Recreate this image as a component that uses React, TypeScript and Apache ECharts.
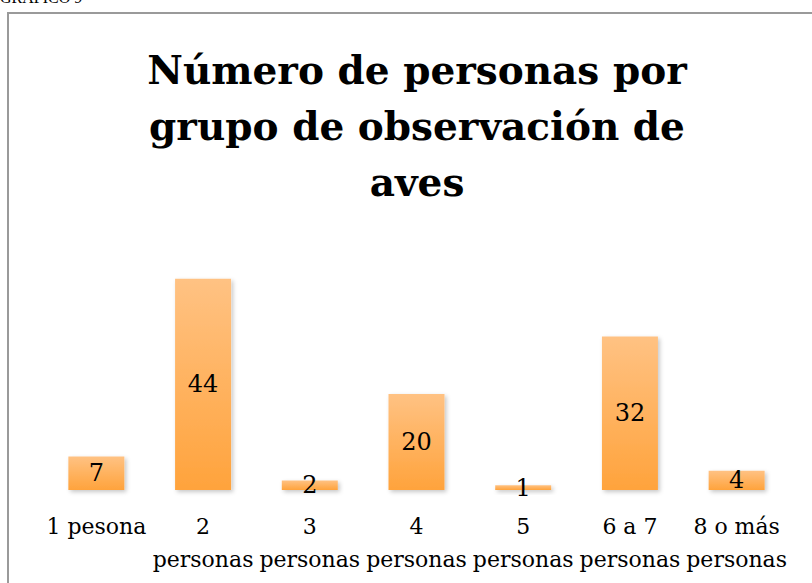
import React, { useEffect, useRef } from "react";
import * as echarts from "echarts";

const categories = [
  "1 pesona",
  "2\npersonas",
  "3\npersonas",
  "4\npersonas",
  "5\npersonas",
  "6 a 7\npersonas",
  "8 o más\npersonas",
];
const values = [7, 44, 2, 20, 1, 32, 4];
const titleLines = ["Número de personas por", "grupo de observación de", "aves"];
const caption = "GRÁFICO 9";

export default function App() {
  const ref = useRef<HTMLDivElement>(null);
  useEffect(() => {
    if (!ref.current) return;
    const chart = echarts.init(ref.current, undefined, { renderer: "svg" });
    const titleGraphics = titleLines.map((t, i) => ({
      type: "text",
      x: 417,
      y: 70 + i * 56,
      style: {
        text: t,
        font: "bold 39px 'DejaVu Serif'",
        fill: "#000",
        textAlign: "center",
        textVerticalAlign: "middle",
      },
    }));
    chart.setOption({
      animation: false,
      backgroundColor: "#fff",
      grid: { left: 43, right: 22, top: 250, bottom: 583 - 490 },
      xAxis: {
        type: "category",
        data: categories,
        axisTick: { show: false },
        axisLine: {
          show: true,
          lineStyle: {
            color: "#a6a6a6",
            width: 2,
            shadowColor: "rgba(0,0,0,0.25)",
            shadowBlur: 3,
            shadowOffsetY: 2,
          },
        },
        axisLabel: {
          interval: 0,
          margin: 20,
          color: "#000",
          fontFamily: "DejaVu Serif",
          fontSize: 22,
          lineHeight: 33,
        },
      },
      yAxis: {
        type: "value",
        min: 0,
        max: 50,
        show: false,
        splitLine: { show: false },
      },
      series: [
        {
          type: "bar",
          data: values,
          barWidth: 56,
          itemStyle: {
            color: new echarts.graphic.LinearGradient(0, 0, 0, 1, [
              { offset: 0, color: "#ffc283" },
              { offset: 1, color: "#ffa33c" },
            ]),
            shadowColor: "rgba(0,0,0,0.22)",
            shadowBlur: 4,
            shadowOffsetX: 2,
            shadowOffsetY: 2,
          },
          label: {
            show: true,
            position: "inside",
            color: "#000",
            fontFamily: "DejaVu Serif",
            fontSize: 24,
          },
        },
      ],
      graphic: [
        {
          type: "rect",
          shape: { x: 8, y: 13, width: 830, height: 600 },
          style: { fill: "none", stroke: "#9a9a9a", lineWidth: 2 },
          silent: true,
        },
        {
          type: "text",
          x: 0,
          y: -3,
          style: {
            text: caption,
            font: "16px 'Liberation Serif'",
            fill: "#000",
            textAlign: "left",
            textVerticalAlign: "middle",
          },
        },
        ...titleGraphics,
      ],
    });
    return () => chart.dispose();
  }, []);
  return (
    <div
      ref={ref}
      style={{ position: "absolute", left: 0, top: 0, width: 812, height: 583 }}
    />
  );
}
